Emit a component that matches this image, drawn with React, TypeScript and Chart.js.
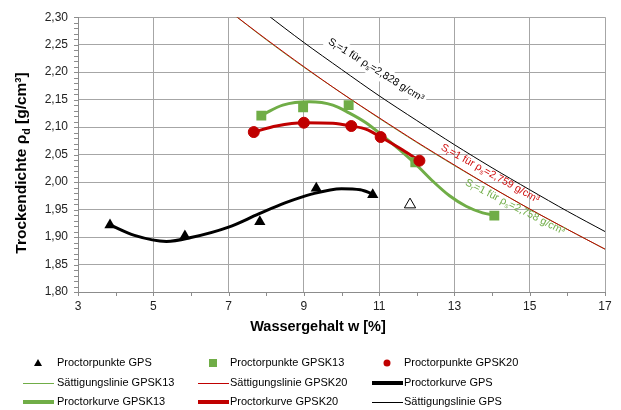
import React, { useEffect, useRef } from "react";
import { Chart, registerables } from "chart.js";
Chart.register(...registerables);

const FONT = "'Liberation Sans', Arial, Helvetica, sans-serif";

// Proctor points (w in %, rho_d in g/cm3)
const gpsW = [3.85, 5.84, 7.83, 9.33, 10.83];
const gpsRho = [1.922, 1.902, 1.928, 1.989, 1.977];
const gpsOutW = [11.82];
const gpsOutRho = [1.959];
const k13W = [7.87, 8.98, 10.19, 11.96, 14.06];
const k13Rho = [2.121, 2.136, 2.14, 2.036, 1.939];
const k20W = [7.67, 9.0, 10.26, 11.04, 12.07];
const k20Rho = [2.091, 2.108, 2.102, 2.082, 2.039];

// Proctor curves
const curveGpsW = [3.85, 4.5, 5.35, 6.0, 7.0, 7.8, 8.5, 9.2, 10.0, 10.5, 10.85];
const curveGpsRho = [1.922, 1.903, 1.892, 1.899, 1.918, 1.942, 1.962, 1.978, 1.988, 1.986, 1.978];
const curveK13W = [7.87, 8.0, 8.44, 9.15, 9.77, 10.2, 10.65, 11.1, 11.54, 11.98, 12.42, 12.87, 13.31, 13.75, 14.06];
const curveK13Rho = [2.121, 2.126, 2.14, 2.146, 2.14, 2.126, 2.108, 2.084, 2.059, 2.032, 2.002, 1.975, 1.956, 1.944, 1.94];
const curveK20W = [7.67, 8.27, 9.0, 9.77, 10.26, 10.66, 11.04, 11.54, 12.07];
const curveK20Rho = [2.091, 2.102, 2.108, 2.107, 2.102, 2.096, 2.082, 2.062, 2.039];

// Saturation lines (Sr = 1)
const satW = [7, 8, 9, 10, 11, 12, 13, 14, 15, 16, 17];
const satGps = [2.361, 2.306, 2.254, 2.205, 2.157, 2.112, 2.068, 2.026, 1.986, 1.947, 1.91];
const satK20 = [2.312, 2.26, 2.21, 2.162, 2.117, 2.073, 2.031, 1.99, 1.951, 1.914, 1.878];
const satK13 = [2.312, 2.259, 2.209, 2.162, 2.116, 2.072, 2.03, 1.99, 1.951, 1.914, 1.878];

const X_MIN = 3, X_MAX = 17, X_STEP = 2;
const Y_MIN = 1.8, Y_MAX = 2.3, Y_STEP = 0.05;

const X_TITLE = "Wassergehalt w [%]";
const Y_TITLE = [{ t: "Trockendichte ρ" }, { t: "d", sub: true }, { t: " [g/cm³]" }];
const LABEL_GPS = [{ t: "S" }, { t: "r", sub: true }, { t: "=1 für ρ" }, { t: "s", sub: true }, { t: "=2,828 g/cm³" }];
const LABEL_K20 = [{ t: "S" }, { t: "r", sub: true }, { t: "=1 für ρ" }, { t: "s", sub: true }, { t: "=2,759 g/cm³" }];
const LABEL_K13 = [{ t: "S" }, { t: "r", sub: true }, { t: "=1 für ρ" }, { t: "s", sub: true }, { t: "=2,758 g/cm³" }];

const GREEN = "#70AD47";
const RED = "#C00000";
const BLACK = "#000000";

const pts = (xs: number[], ys: number[]) => xs.map((x, i) => ({ x, y: ys[i] }));

type Seg = { t: string; sub?: boolean };

function richWidth(ctx: CanvasRenderingContext2D, segs: Seg[], size: number, weight: string) {
  let w = 0;
  for (const s of segs) {
    ctx.font = `${weight} ${s.sub ? size * 0.68 : size}px ${FONT}`;
    w += ctx.measureText(s.t).width;
  }
  return w;
}

function drawRich(ctx: CanvasRenderingContext2D, segs: Seg[], cx: number, cy: number, angle: number, size: number, color: string, weight = "normal", bg = false) {
  ctx.save();
  ctx.translate(cx, cy);
  ctx.rotate(angle);
  const w = richWidth(ctx, segs, size, weight);
  if (bg) {
    ctx.fillStyle = "#ffffff";
    ctx.fillRect(-w / 2 - 3, -size * 0.75, w + 6, size * 1.5);
  }
  ctx.fillStyle = color;
  ctx.textBaseline = "middle";
  ctx.textAlign = "left";
  let x = -w / 2;
  for (const s of segs) {
    ctx.font = `${weight} ${s.sub ? size * 0.68 : size}px ${FONT}`;
    ctx.fillText(s.t, x, s.sub ? size * 0.3 : 0);
    x += ctx.measureText(s.t).width;
  }
  ctx.restore();
}

type LegendItem = { label: string; kind: "marker" | "line"; color: string; style?: string; width?: number };
const LEGEND: LegendItem[] = [
  { label: "Proctorpunkte GPS", kind: "marker", color: BLACK, style: "triangle" },
  { label: "Proctorpunkte GPSK13", kind: "marker", color: GREEN, style: "rect" },
  { label: "Proctorpunkte GPSK20", kind: "marker", color: RED, style: "circle" },
  { label: "Sättigungslinie GPSK13", kind: "line", color: GREEN, width: 1 },
  { label: "Sättigungslinie GPSK20", kind: "line", color: RED, width: 1 },
  { label: "Proctorkurve GPS", kind: "line", color: BLACK, width: 4 },
  { label: "Proctorkurve GPSK13", kind: "line", color: GREEN, width: 4 },
  { label: "Proctorkurve GPSK20", kind: "line", color: RED, width: 4 },
  { label: "Sättigungslinie GPS", kind: "line", color: BLACK, width: 1 },
];

const overlay = {
  id: "overlay",
  afterDraw(chart: any) {
    const ctx: CanvasRenderingContext2D = chart.ctx;
    const { left, bottom } = chart.chartArea;
    const xs = chart.scales.x, ys = chart.scales.y;
    ctx.save();
    // minor ticks
    ctx.strokeStyle = "#8c8c8c";
    ctx.lineWidth = 1;
    ctx.beginPath();
    for (let v = X_MIN; v <= X_MAX; v += 1) {
      const px = Math.round(xs.getPixelForValue(v)) + 0.5;
      ctx.moveTo(px, bottom);
      ctx.lineTo(px, bottom + 4);
    }
    for (let i = 0; i <= 50; i++) {
      const py = Math.round(ys.getPixelForValue(Y_MIN + i * 0.01)) + 0.5;
      ctx.moveTo(left - 4, py);
      ctx.lineTo(left, py);
    }
    ctx.stroke();

    // annotations
    drawRich(ctx, LABEL_GPS, 376, 70, (32 * Math.PI) / 180, 10.5, "#000", "normal", true);
    drawRich(ctx, LABEL_K20, 490, 173.5, (29 * Math.PI) / 180, 10.5, "#D01010");
    drawRich(ctx, LABEL_K13, 515, 207, (27 * Math.PI) / 180, 10.5, GREEN);

    // axis titles
    drawRich(ctx, Y_TITLE, 22, 163, -Math.PI / 2, 15.5, "#000", "bold");
    drawRich(ctx, [{ t: X_TITLE }], 318, 327, 0, 14.5, "#000", "bold");

    // legend
    const rowY = [363, 383, 402];
    const colSym = [38, 213, 387];
    const colText = [57, 230, 404];
    LEGEND.forEach((it, i) => {
      const r = Math.floor(i / 3), c = i % 3;
      const y = rowY[r];
      const sx = colSym[c];
      if (it.kind === "line") {
        const lw = it.width || 1;
        const ly = lw % 2 === 1 ? y + 0.5 : y;
        ctx.strokeStyle = it.color;
        ctx.lineWidth = lw;
        ctx.beginPath();
        ctx.moveTo(sx - 15, ly);
        ctx.lineTo(sx + 16, ly);
        ctx.stroke();
      } else {
        ctx.fillStyle = it.color;
        if (it.style === "triangle") {
          ctx.beginPath();
          ctx.moveTo(sx, y - 4);
          ctx.lineTo(sx + 4, y + 3);
          ctx.lineTo(sx - 4, y + 3);
          ctx.closePath();
          ctx.fill();
        } else if (it.style === "rect") {
          ctx.fillRect(sx - 4, y - 4, 8, 8);
        } else {
          ctx.beginPath();
          ctx.arc(sx, y, 3.5, 0, Math.PI * 2);
          ctx.fill();
        }
      }
      ctx.fillStyle = "#000";
      ctx.font = `11px ${FONT}`;
      ctx.textBaseline = "middle";
      ctx.textAlign = "left";
      ctx.fillText(it.label, colText[c], y);
    });
    ctx.restore();
  },
};

export default function App() {
  const ref = useRef<HTMLCanvasElement>(null);
  useEffect(() => {
    document.body.style.margin = "0";
    const canvas = ref.current!;
    const chart = new Chart(canvas, {
      type: "scatter",
      data: {
        datasets: [
          { label: "Proctorpunkte GPSK20", data: pts(k20W, k20Rho), pointStyle: "circle", pointRadius: 5.5, backgroundColor: RED, borderColor: RED, showLine: false, order: 0 } as any,
          { label: "Proctorpunkte GPSK13", data: pts(k13W, k13Rho), pointStyle: "rect", pointRadius: 7, backgroundColor: GREEN, borderColor: GREEN, borderWidth: 0, showLine: false, order: 1 },
          { label: "Proctorpunkte GPS", data: pts(gpsW, gpsRho), pointStyle: "triangle", pointRadius: 6.5, backgroundColor: BLACK, borderColor: BLACK, borderWidth: 0, showLine: false, order: 0 },
          { label: "Proctorpunkt GPS (nicht berücksichtigt)", data: pts(gpsOutW, gpsOutRho), pointStyle: "triangle", pointRadius: 6.5, backgroundColor: "#ffffff", borderColor: BLACK, borderWidth: 1, showLine: false, order: 0 },
          { label: "Proctorkurve GPSK20", data: pts(curveK20W, curveK20Rho), showLine: true, borderColor: RED, borderWidth: 3, pointRadius: 0, cubicInterpolationMode: "monotone", order: 2 },
          { label: "Proctorkurve GPSK13", data: pts(curveK13W, curveK13Rho), showLine: true, borderColor: GREEN, borderWidth: 3, pointRadius: 0, cubicInterpolationMode: "monotone", order: 3 },
          { label: "Proctorkurve GPS", data: pts(curveGpsW, curveGpsRho), showLine: true, borderColor: BLACK, borderWidth: 3, pointRadius: 0, cubicInterpolationMode: "monotone", order: 2 },
          { label: "Sättigungslinie GPS", data: pts(satW, satGps), showLine: true, borderColor: BLACK, borderWidth: 1, pointRadius: 0, tension: 0.3, order: 4 },
          { label: "Sättigungslinie GPSK20", data: pts(satW, satK20), showLine: true, borderColor: RED, borderWidth: 1, pointRadius: 0, tension: 0.3, order: 4 },
          { label: "Sättigungslinie GPSK13", data: pts(satW, satK13), showLine: true, borderColor: GREEN, borderWidth: 1, pointRadius: 0, tension: 0.3, order: 5 },
        ],
      },
      options: {
        responsive: false,
        animation: false,
        layout: { padding: { top: 16, right: 16, left: 0, bottom: 0 } },
        plugins: { legend: { display: false }, tooltip: { enabled: false } },
        scales: {
          x: {
            type: "linear",
            min: X_MIN,
            max: X_MAX,
            ticks: { stepSize: X_STEP, font: { family: FONT, size: 12 }, color: "#222", padding: 7 },
            grid: { color: "#A6A6A6", lineWidth: 1, drawTicks: false },
            border: { color: "#8c8c8c" },
            afterFit: (s: any) => { s.height = 118; },
          },
          y: {
            type: "linear",
            min: Y_MIN,
            max: Y_MAX,
            ticks: {
              stepSize: Y_STEP,
              font: { family: FONT, size: 12 },
              color: "#222",
              padding: 10,
              callback: (v: any) => Number(v).toFixed(2).replace(".", ","),
            },
            grid: { color: "#A6A6A6", lineWidth: 1, drawTicks: false },
            border: { color: "#8c8c8c" },
            afterFit: (s: any) => { s.width = 78; },
          },
        },
      },
      plugins: [overlay],
    });
    return () => chart.destroy();
  }, []);
  return (
    <div style={{ width: 621, height: 410 }}>
      <canvas ref={ref} width={621} height={410} />
    </div>
  );
}
